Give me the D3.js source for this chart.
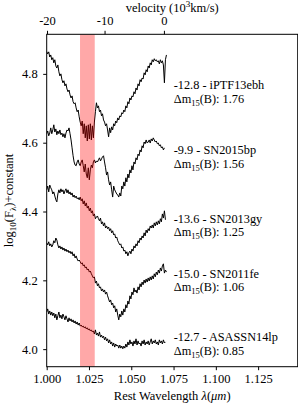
<!DOCTYPE html>
<html lang="en">
<head>
<meta charset="utf-8">
<title>Spectra near 1 micron</title>
<script src="https://d3js.org/d3.v7.min.js"></script>
<style>
  body { margin: 0; background: #fff; }
  svg { display: block; }
  svg text { font-family: "Liberation Serif", "Times New Roman", "DejaVu Serif", serif; fill: #000; }
  .tick line { stroke: #000; }
  .tick text { font-size: 12.5px; }
</style>
</head>
<body>
<div id="chart"></div>
<script>
// rest wavelength grid (micron)
const wavelength = [
  1.0000,1.0006,1.0012,1.0018,1.0024,1.0030,1.0036,1.0042,1.0048,1.0054,
  1.0060,1.0066,1.0072,1.0078,1.0084,1.0090,1.0096,1.0102,1.0108,1.0114,
  1.0120,1.0126,1.0132,1.0138,1.0144,1.0150,1.0156,1.0162,1.0168,1.0174,
  1.0180,1.0186,1.0192,1.0198,1.0204,1.0210,1.0216,1.0222,1.0228,1.0234,
  1.0240,1.0246,1.0252,1.0258,1.0264,1.0270,1.0276,1.0282,1.0288,1.0294,
  1.0300,1.0306,1.0312,1.0318,1.0324,1.0330,1.0336,1.0342,1.0348,1.0354,
  1.0360,1.0366,1.0372,1.0378,1.0384,1.0390,1.0396,1.0402,1.0408,1.0414,
  1.0420,1.0426,1.0432,1.0438,1.0444,1.0450,1.0456,1.0462,1.0468,1.0474,
  1.0480,1.0486,1.0492,1.0498,1.0504,1.0510,1.0516,1.0522,1.0528,1.0534,
  1.0540,1.0546,1.0552,1.0558,1.0564,1.0570,1.0576,1.0582,1.0588,1.0594,
  1.0600,1.0606,1.0612,1.0618,1.0624,1.0630,1.0636,1.0642,1.0648,1.0654,
  1.0660,1.0666,1.0672,1.0678,1.0684,1.0690,1.0696,1.0702,1.0708
];

// log10 flux + constant, one array per supernova
const flux_iPTF13ebh = [
  4.865,4.858,4.864,4.849,4.855,4.841,4.847,4.832,4.841,4.823,
  4.817,4.826,4.806,4.794,4.800,4.783,4.774,4.780,4.765,4.771,
  4.756,4.748,4.753,4.739,4.730,4.736,4.719,4.713,4.716,4.701,
  4.690,4.695,4.675,4.660,4.649,4.663,4.626,4.655,4.614,4.649,
  4.605,4.652,4.611,4.655,4.608,4.649,4.614,4.660,4.690,4.716,
  4.701,4.707,4.690,4.695,4.678,4.684,4.666,4.660,4.649,4.655,
  4.637,4.617,4.643,4.629,4.646,4.637,4.655,4.649,4.663,4.658,
  4.672,4.666,4.678,4.675,4.687,4.684,4.695,4.690,4.707,4.701,
  4.719,4.713,4.730,4.724,4.736,4.733,4.748,4.742,4.759,4.753,
  4.771,4.765,4.783,4.777,4.788,4.785,4.803,4.797,4.812,4.806,
  4.823,4.817,4.832,4.826,4.841,4.835,4.844,4.838,4.841,4.835,
  4.838,4.829,4.841,4.832,4.838,4.826,4.774,4.841,4.855
];
const flux_SN2015bp = [
  4.626,4.634,4.620,4.628,4.643,4.626,4.637,4.652,4.631,4.640,
  4.623,4.634,4.626,4.637,4.623,4.628,4.617,4.626,4.614,4.628,
  4.637,4.634,4.643,4.626,4.608,4.585,4.562,4.544,4.535,4.533,
  4.544,4.550,4.538,4.533,4.544,4.550,4.533,4.515,4.538,4.509,
  4.498,4.527,4.492,4.521,4.535,4.527,4.544,4.550,4.541,4.547,
  4.544,4.550,4.556,4.547,4.553,4.559,4.562,4.544,4.527,4.506,
  4.515,4.492,4.477,4.486,4.463,4.442,4.474,4.463,4.457,4.451,
  4.448,4.442,4.454,4.445,4.474,4.466,4.486,4.474,4.498,4.486,
  4.509,4.498,4.521,4.512,4.533,4.521,4.544,4.538,4.556,4.550,
  4.567,4.562,4.579,4.573,4.591,4.585,4.602,4.597,4.608,4.599,
  4.602,4.608,4.599,4.611,4.605,4.614,4.608,4.602,4.605,4.597,
  4.599,4.591,4.594,4.585,4.588,4.579,4.585
];
const flux_SN2013gy = [
  4.463,4.474,4.457,4.477,4.469,4.463,4.451,4.457,4.445,4.434,
  4.428,4.451,4.463,4.454,4.466,4.457,4.463,4.451,4.460,4.466,
  4.454,4.463,4.451,4.457,4.448,4.454,4.442,4.448,4.440,4.445,
  4.437,4.440,4.434,4.442,4.431,4.437,4.422,4.431,4.416,4.425,
  4.410,4.416,4.402,4.410,4.396,4.402,4.387,4.393,4.379,4.384,
  4.387,4.379,4.373,4.381,4.364,4.370,4.358,4.367,4.352,4.358,
  4.350,4.355,4.344,4.350,4.338,4.344,4.332,4.335,4.323,4.326,
  4.315,4.309,4.303,4.306,4.294,4.297,4.285,4.288,4.277,4.283,
  4.271,4.280,4.285,4.277,4.291,4.285,4.300,4.294,4.306,4.300,
  4.315,4.309,4.323,4.317,4.329,4.323,4.338,4.329,4.346,4.338,
  4.350,4.344,4.358,4.352,4.361,4.352,4.367,4.358,4.370,4.361,
  4.373,4.364,4.379,4.370,4.393,4.381,4.402,4.376
];
const flux_SN2011fe = [
  4.309,4.303,4.312,4.300,4.306,4.297,4.303,4.315,4.309,4.323,
  4.317,4.303,4.294,4.300,4.291,4.297,4.288,4.294,4.285,4.291,
  4.283,4.288,4.280,4.285,4.277,4.283,4.271,4.277,4.265,4.271,
  4.262,4.256,4.259,4.254,4.248,4.251,4.242,4.245,4.236,4.239,
  4.230,4.233,4.224,4.227,4.219,4.213,4.207,4.210,4.192,4.198,
  4.184,4.190,4.178,4.181,4.169,4.175,4.166,4.172,4.160,4.166,
  4.155,4.146,4.137,4.143,4.129,4.134,4.120,4.126,4.108,4.117,
  4.099,4.085,4.102,4.094,4.111,4.099,4.117,4.108,4.129,4.120,
  4.140,4.131,4.155,4.146,4.166,4.158,4.178,4.166,4.172,4.163,
  4.181,4.172,4.190,4.181,4.195,4.187,4.201,4.192,4.204,4.195,
  4.207,4.198,4.210,4.201,4.213,4.204,4.219,4.210,4.224,4.216,
  4.230,4.221,4.236,4.227,4.242,4.248,4.221,4.230,4.224
];
const flux_ASASSN14lp = [
  4.108,4.117,4.102,4.111,4.099,4.108,4.097,4.105,4.091,4.102,
  4.085,4.097,4.108,4.091,4.099,4.088,4.102,4.094,4.085,4.097,
  4.088,4.079,4.091,4.082,4.088,4.079,4.085,4.076,4.082,4.073,
  4.079,4.070,4.076,4.067,4.070,4.065,4.067,4.062,4.065,4.059,
  4.062,4.056,4.059,4.053,4.056,4.050,4.053,4.044,4.056,4.041,
  4.047,4.038,4.050,4.035,4.041,4.033,4.038,4.027,4.035,4.024,
  4.030,4.018,4.027,4.015,4.021,4.009,4.018,4.006,4.015,4.009,
  4.012,4.003,4.012,4.003,4.009,4.001,4.009,4.003,4.015,4.006,
  4.021,4.012,4.027,4.015,4.021,4.009,4.024,4.015,4.030,4.012,
  4.024,4.015,4.018,4.009,4.024,4.015,4.027,4.012,4.021,4.015,
  4.024,4.012,4.021,4.030,4.015,4.024,4.018,4.027,4.015,4.021,
  4.012,4.027,4.018,4.024,4.015,4.027,4.018,4.021
];

const names  = ["iPTF13ebh", "SN2015bp", "SN2013gy", "SN2011fe", "ASASSN14lp"];
const phases = ["-12.8", "-9.9", "-13.6", "-15.0", "-12.7"];
const dm15   = ["1.76", "1.56", "1.25", "1.06", "0.85"];
const fluxes = [flux_iPTF13ebh, flux_SN2015bp, flux_SN2013gy, flux_SN2011fe, flux_ASASSN14lp];

const xTicks = [1.000, 1.025, 1.050, 1.075, 1.100, 1.125];
const yTicks = [4.0, 4.2, 4.4, 4.6, 4.8];
const velocityTicks = [-20, -10, 0];   // 10^3 km/s
const restLine = 1.0693;               // C I rest wavelength (micron)
const band = [1.0197, 1.0284];         // shaded region (micron)

// layout
const W = 298, H = 406;
const margin = { top: 34.3, right: 0.3, bottom: 39.3, left: 46.7 };
const serif = '"Liberation Serif", "Times New Roman", "DejaVu Serif", serif';

const svg = d3.select("#chart").append("svg")
  .attr("width", W).attr("height", H)
  .attr("font-family", serif);

const x = d3.scaleLinear().domain([1.0, 1.1484]).range([margin.left, W - margin.right]);
const y = d3.scaleLinear().domain([3.949, 4.915]).range([H - margin.bottom, margin.top]);

// relativistic doppler: velocity -> observed wavelength of the line
function velToWave(v) {
  const b = v * 1000 / 299792.458;
  return restLine * Math.sqrt((1 + b) / (1 - b));
}

svg.append("defs").append("clipPath").attr("id", "clip")
  .append("rect")
  .attr("x", margin.left).attr("y", margin.top)
  .attr("width", W - margin.left - margin.right)
  .attr("height", H - margin.top - margin.bottom);

const line = d3.line()
  .x((d, i) => x(wavelength[i]))
  .y(d => y(d));

const plot = svg.append("g").attr("clip-path", "url(#clip)");

fluxes.forEach(f => {
  plot.append("path")
    .datum(f)
    .attr("d", line)
    .attr("fill", "none")
    .attr("stroke", "#000")
    .attr("stroke-width", 1)
    .attr("stroke-linejoin", "round");
});

// shaded velocity band drawn over the spectra
plot.append("rect")
  .attr("x", x(band[0]))
  .attr("y", margin.top)
  .attr("width", x(band[1]) - x(band[0]))
  .attr("height", H - margin.top - margin.bottom)
  .attr("fill", "red")
  .attr("fill-opacity", 0.34);

// annotations (two lines each)
const labelY = [4.756, 4.567, 4.368, 4.208, 4.023];
const labelX = 1.0751;
names.forEach((n, i) => {
  const g = svg.append("g").attr("transform", `translate(${x(labelX)},${y(labelY[i])})`);
  g.append("text").attr("font-size", 12.3).text(`${phases[i]} - ${n}`);
  const t = g.append("text").attr("y", 13.8).attr("font-size", 12.3);
  t.append("tspan").text("\u0394m");
  t.append("tspan").attr("dy", 3).attr("font-size", 8.5).text("15");
  t.append("tspan").attr("dy", -3).text(`(B): ${dm15[i]}`);
});

// axes
const axB = svg.append("g")
  .attr("transform", `translate(0,${H - margin.bottom})`)
  .call(d3.axisBottom(x).tickValues(xTicks).tickFormat(d3.format(".3f")).tickSize(3.5).tickPadding(4.2));
const axL = svg.append("g")
  .attr("transform", `translate(${margin.left},0)`)
  .call(d3.axisLeft(y).tickValues(yTicks).tickFormat(d3.format(".1f")).tickSize(3.5).tickPadding(5.5));
const axT = svg.append("g")
  .attr("transform", `translate(0,${margin.top})`)
  .call(d3.axisTop(x).tickValues(velocityTicks.map(velToWave))
    .tickFormat((d, i) => velocityTicks[i]).tickSize(3.5).tickPadding(5.5));
[axB, axL, axT].forEach(a => {
  a.select(".domain").remove();
  a.attr("font-family", serif).attr("font-size", 12.5);
});

// frame
svg.append("rect")
  .attr("x", margin.left).attr("y", margin.top)
  .attr("width", W - margin.left - margin.right)
  .attr("height", H - margin.top - margin.bottom)
  .attr("fill", "none").attr("stroke", "#000").attr("stroke-width", 1);

// axis titles
const xMid = (margin.left + W - margin.right) / 2;
const xl = svg.append("text").attr("x", xMid).attr("y", 400)
  .attr("text-anchor", "middle").attr("font-size", 12.5);
xl.append("tspan").text("Rest Wavelength ");
xl.append("tspan").attr("font-style", "italic").text("\u03bb");
xl.append("tspan").text("(");
xl.append("tspan").attr("font-style", "italic").text("\u03bcm");
xl.append("tspan").text(")");

const tl = svg.append("text").attr("x", xMid).attr("y", 11.5)
  .attr("text-anchor", "middle").attr("font-size", 12.5);
tl.append("tspan").text("velocity (10");
tl.append("tspan").attr("dy", -5).attr("font-size", 9).text("3");
tl.append("tspan").attr("dy", 5).text("km/s)");

const yMid = (margin.top + H - margin.bottom) / 2;
const yl = svg.append("text")
  .attr("transform", `translate(13,${yMid}) rotate(-90)`)
  .attr("text-anchor", "middle").attr("font-size", 12.5);
yl.append("tspan").text("log");
yl.append("tspan").attr("dy", 3).attr("font-size", 9).text("10");
yl.append("tspan").attr("dy", -3).text("(F");
yl.append("tspan").attr("dy", 3).attr("font-size", 9).text("\u03bb");
yl.append("tspan").attr("dy", -3).text(")+constant");
</script>
</body>
</html>
